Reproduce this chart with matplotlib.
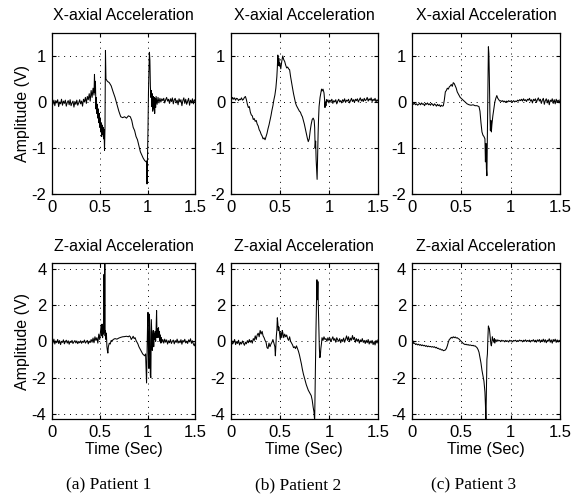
import matplotlib
matplotlib.use("Agg")
import matplotlib.pyplot as plt

# acceleration traces: (time in s, amplitude in V)
x_axial_p1 = [
    (0.00, 0.02), (0.01, -0.05), (0.02, 0.04), (0.03, -0.08), (0.04, 0.03), (0.05, -0.02),
    (0.06, 0.05), (0.07, -0.10), (0.08, 0.00), (0.09, -0.04), (0.10, 0.06), (0.11, -0.07),
    (0.12, 0.02), (0.13, -0.03), (0.14, 0.04), (0.15, -0.09), (0.16, -0.01), (0.17, 0.03),
    (0.18, -0.06), (0.19, 0.05), (0.20, -0.08), (0.21, -0.02), (0.22, 0.02), (0.23, -0.11),
    (0.24, 0.01), (0.25, -0.05), (0.26, 0.04), (0.27, -0.07), (0.28, -0.02), (0.29, 0.05),
    (0.30, -0.04), (0.31, 0.02), (0.32, -0.09), (0.33, 0.06), (0.34, 0.00), (0.35, 0.10),
    (0.36, -0.03), (0.37, 0.12), (0.38, 0.05), (0.39, 0.18), (0.40, 0.02), (0.41, 0.25),
    (0.42, 0.10), (0.43, 0.30), (0.44, 0.15), (0.445, 0.60), (0.45, 0.20), (0.455, 0.45),
    (0.46, -0.15), (0.465, 0.10), (0.47, -0.25), (0.475, -0.05), (0.48, -0.35), (0.485, -0.15),
    (0.49, -0.45), (0.495, -0.25), (0.50, -0.55), (0.505, -0.35), (0.51, -0.65), (0.515, -0.45),
    (0.52, -0.75), (0.525, -0.50), (0.53, -0.70), (0.535, -0.55), (0.54, -0.80), (0.545, -0.60),
    (0.55, -1.05), (0.555, -0.55), (0.56, 1.12), (0.565, 0.50), (0.58, 0.45), (0.60, 0.42),
    (0.62, 0.35), (0.64, 0.22), (0.66, 0.10), (0.68, -0.05), (0.70, -0.20), (0.72, -0.32),
    (0.74, -0.34), (0.76, -0.32), (0.78, -0.35), (0.80, -0.30), (0.82, -0.32), (0.835, -0.40),
    (0.85, -0.55), (0.865, -0.62), (0.88, -0.75), (0.895, -0.82), (0.91, -0.95), (0.925, -1.08),
    (0.94, -1.15), (0.955, -1.22), (0.97, -1.27), (0.985, -1.30), (0.99, -1.28), (0.995, -1.78),
    (1.00, -1.20), (1.005, -0.60), (1.01, 0.20), (1.015, 0.70), (1.02, 1.08), (1.025, 0.90),
    (1.03, 0.35), (1.035, 0.10), (1.04, 0.25), (1.045, -0.10), (1.05, 0.18), (1.055, -0.20),
    (1.06, 0.12), (1.065, -0.15), (1.07, 0.10), (1.075, -0.25), (1.08, 0.08), (1.085, -0.12),
    (1.09, 0.12), (1.10, -0.05), (1.11, 0.10), (1.12, -0.02), (1.13, 0.08), (1.14, 0.00),
    (1.15, 0.07), (1.16, 0.03), (1.17, 0.08), (1.18, -0.02), (1.19, 0.05), (1.20, 0.10),
    (1.21, 0.02), (1.22, 0.06), (1.23, -0.03), (1.24, 0.07), (1.25, 0.01), (1.26, 0.09),
    (1.27, -0.04), (1.28, 0.05), (1.29, 0.08), (1.30, -0.02), (1.31, 0.04), (1.32, -0.06),
    (1.33, 0.07), (1.34, 0.00), (1.35, 0.05), (1.36, -0.08), (1.37, 0.03), (1.38, 0.09),
    (1.39, -0.03), (1.40, 0.06), (1.41, -0.05), (1.42, 0.02), (1.43, 0.08), (1.44, -0.07),
    (1.45, 0.04), (1.46, -0.02), (1.47, 0.07), (1.48, -0.04), (1.49, 0.05), (1.50, 0.01),
]

x_axial_p2 = [
    (0.00, 0.08), (0.01, 0.05), (0.02, 0.10), (0.03, 0.06), (0.04, 0.09), (0.05, 0.04),
    (0.06, 0.08), (0.07, 0.07), (0.08, 0.03), (0.09, 0.06), (0.10, 0.05), (0.11, 0.09),
    (0.12, 0.04), (0.13, 0.06), (0.14, 0.10), (0.15, 0.12), (0.16, 0.05), (0.17, -0.05),
    (0.18, -0.12), (0.19, -0.10), (0.20, -0.22), (0.21, -0.28), (0.22, -0.30), (0.23, -0.38),
    (0.24, -0.36), (0.25, -0.42), (0.26, -0.40), (0.27, -0.48), (0.28, -0.52), (0.29, -0.60),
    (0.30, -0.64), (0.31, -0.70), (0.32, -0.74), (0.33, -0.80), (0.34, -0.78), (0.35, -0.82),
    (0.36, -0.75), (0.37, -0.68), (0.38, -0.58), (0.39, -0.50), (0.40, -0.40), (0.41, -0.30),
    (0.42, -0.18), (0.43, -0.08), (0.44, 0.05), (0.45, 0.15), (0.46, 0.30), (0.47, 0.55),
    (0.475, 0.75), (0.48, 1.02), (0.485, 0.80), (0.49, 0.95), (0.495, 0.78), (0.50, 0.85),
    (0.51, 0.72), (0.52, 0.88), (0.53, 1.00), (0.54, 0.92), (0.55, 0.88), (0.56, 0.80),
    (0.57, 0.74), (0.58, 0.76), (0.59, 0.72), (0.60, 0.70), (0.61, 0.55), (0.62, 0.42),
    (0.63, 0.30), (0.64, 0.18), (0.65, 0.08), (0.66, -0.02), (0.67, -0.08), (0.68, -0.12),
    (0.69, -0.16), (0.70, -0.20), (0.71, -0.22), (0.72, -0.28), (0.73, -0.32), (0.74, -0.40),
    (0.75, -0.48), (0.76, -0.58), (0.77, -0.68), (0.78, -0.78), (0.79, -0.86), (0.80, -0.80),
    (0.81, -0.62), (0.82, -0.48), (0.83, -0.38), (0.84, -0.35), (0.85, -0.40), (0.855, -0.55),
    (0.86, -1.00), (0.865, -0.85), (0.87, -1.25), (0.875, -1.45), (0.88, -1.68), (0.885, -1.20),
    (0.89, -0.70), (0.895, -0.35), (0.90, -0.10), (0.91, 0.10), (0.92, 0.22), (0.925, 0.28),
    (0.93, 0.24), (0.94, 0.28), (0.95, 0.20), (0.955, 0.08), (0.96, -0.12), (0.965, 0.00),
    (0.97, -0.08), (0.975, 0.05), (0.98, 0.00), (0.99, 0.05), (1.00, -0.02), (1.01, 0.04),
    (1.02, 0.01), (1.03, 0.06), (1.04, -0.03), (1.05, 0.03), (1.06, 0.00), (1.07, 0.05),
    (1.08, -0.04), (1.09, 0.02), (1.10, 0.06), (1.11, 0.00), (1.12, 0.03), (1.13, -0.02),
    (1.14, 0.05), (1.15, 0.01), (1.16, 0.07), (1.17, -0.01), (1.18, 0.04), (1.19, 0.02),
    (1.20, 0.06), (1.21, -0.02), (1.22, 0.03), (1.23, 0.08), (1.24, 0.01), (1.25, 0.05),
    (1.26, -0.01), (1.27, 0.06), (1.28, 0.03), (1.29, 0.07), (1.30, 0.00), (1.31, 0.05),
    (1.32, 0.09), (1.33, 0.02), (1.34, 0.06), (1.35, 0.01), (1.36, 0.08), (1.37, 0.03),
    (1.38, 0.05), (1.39, 0.10), (1.40, 0.02), (1.41, 0.07), (1.42, 0.04), (1.43, 0.09),
    (1.44, 0.01), (1.45, 0.06), (1.46, 0.03), (1.47, 0.08), (1.48, 0.00), (1.49, 0.05),
    (1.50, 0.02),
]

x_axial_p3 = [
    (0.00, 0.02), (0.005, -0.12), (0.01, -0.02), (0.02, -0.05), (0.03, -0.03), (0.04, -0.06),
    (0.05, -0.04), (0.06, -0.07), (0.07, -0.05), (0.08, -0.03), (0.09, -0.06), (0.10, -0.02),
    (0.11, -0.05), (0.12, -0.04), (0.13, -0.08), (0.14, -0.03), (0.15, -0.05), (0.16, -0.02),
    (0.17, -0.06), (0.18, -0.04), (0.19, -0.07), (0.20, -0.03), (0.21, -0.05), (0.22, -0.08),
    (0.23, -0.04), (0.24, -0.06), (0.25, -0.09), (0.26, -0.05), (0.27, -0.08), (0.28, -0.06),
    (0.29, -0.10), (0.30, -0.07), (0.31, -0.09), (0.32, -0.08), (0.33, 0.05), (0.34, 0.22),
    (0.35, 0.25), (0.36, 0.30), (0.37, 0.28), (0.38, 0.33), (0.39, 0.35), (0.40, 0.38),
    (0.41, 0.34), (0.42, 0.42), (0.43, 0.40), (0.44, 0.35), (0.45, 0.30), (0.46, 0.22),
    (0.47, 0.18), (0.48, 0.14), (0.49, 0.10), (0.50, 0.08), (0.52, 0.04), (0.54, 0.00),
    (0.56, -0.04), (0.58, -0.06), (0.60, -0.07), (0.62, -0.06), (0.64, -0.08), (0.66, -0.08),
    (0.68, -0.10), (0.69, -0.20), (0.70, -0.45), (0.71, -0.65), (0.72, -0.72), (0.73, -0.75),
    (0.74, -0.80), (0.745, -1.30), (0.75, -0.90), (0.755, -1.45), (0.76, -1.60), (0.765, -0.70),
    (0.77, 0.40), (0.775, 1.20), (0.78, 1.05), (0.785, 0.50), (0.79, -0.20), (0.795, -0.62),
    (0.80, -0.40), (0.805, -0.65), (0.81, -0.50), (0.82, -0.30), (0.83, -0.15), (0.84, 0.00),
    (0.85, 0.08), (0.86, 0.14), (0.87, 0.08), (0.88, 0.05), (0.89, 0.02), (0.90, 0.03),
    (0.91, 0.01), (0.92, 0.03), (0.93, 0.00), (0.94, 0.02), (0.95, -0.01), (0.96, 0.02),
    (0.97, 0.00), (0.98, 0.03), (0.99, 0.01), (1.00, 0.02), (1.01, -0.01), (1.02, 0.01),
    (1.03, 0.03), (1.04, 0.00), (1.05, 0.02), (1.06, 0.01), (1.07, 0.04), (1.08, 0.02),
    (1.09, 0.05), (1.10, 0.03), (1.11, 0.06), (1.12, 0.02), (1.13, 0.07), (1.14, 0.03),
    (1.15, 0.05), (1.16, 0.01), (1.17, 0.06), (1.18, 0.04), (1.19, 0.08), (1.20, 0.02),
    (1.21, 0.05), (1.22, -0.02), (1.23, 0.06), (1.24, 0.03), (1.25, 0.07), (1.26, -0.01),
    (1.27, 0.05), (1.28, 0.09), (1.29, 0.02), (1.30, 0.06), (1.31, -0.03), (1.32, 0.04),
    (1.33, 0.08), (1.34, -0.05), (1.35, 0.03), (1.36, 0.07), (1.37, -0.02), (1.38, 0.05),
    (1.39, -0.06), (1.40, 0.04), (1.41, 0.01), (1.42, 0.07), (1.43, -0.03), (1.44, 0.05),
    (1.45, -0.04), (1.46, 0.06), (1.47, 0.00), (1.48, 0.04), (1.49, -0.02), (1.50, 0.05),
]

z_axial_p1 = [
    (0.00, 0.05), (0.01, -0.10), (0.02, 0.12), (0.03, -0.15), (0.04, 0.02), (0.05, -0.08),
    (0.06, 0.10), (0.07, -0.12), (0.08, 0.04), (0.09, -0.18), (0.10, 0.00), (0.11, -0.06),
    (0.12, 0.08), (0.13, -0.14), (0.14, -0.02), (0.15, 0.06), (0.16, -0.10), (0.17, 0.03),
    (0.18, -0.16), (0.19, 0.00), (0.20, -0.07), (0.21, 0.05), (0.22, -0.12), (0.23, -0.03),
    (0.24, 0.04), (0.25, -0.09), (0.26, 0.02), (0.27, -0.13), (0.28, -0.01), (0.29, -0.08),
    (0.30, 0.03), (0.31, -0.11), (0.32, 0.00), (0.33, -0.06), (0.34, 0.07), (0.35, -0.10),
    (0.36, -0.02), (0.37, 0.05), (0.38, -0.14), (0.39, 0.01), (0.40, -0.07), (0.41, 0.10),
    (0.42, -0.05), (0.43, 0.18), (0.44, -0.08), (0.45, 0.25), (0.46, 0.05), (0.47, 0.20),
    (0.48, -0.10), (0.49, 0.40), (0.50, 0.10), (0.51, 0.60), (0.515, 0.90), (0.52, 0.30),
    (0.525, 0.95), (0.53, 0.20), (0.535, 0.80), (0.54, 0.40), (0.545, 3.70), (0.55, 0.50),
    (0.553, 4.35), (0.556, 0.30), (0.56, 0.60), (0.565, 0.10), (0.57, 0.45), (0.575, -0.30),
    (0.58, -0.50), (0.585, -0.65), (0.59, -0.30), (0.60, -0.10), (0.61, -0.15), (0.62, 0.05),
    (0.63, 0.00), (0.64, 0.10), (0.66, 0.15), (0.68, 0.12), (0.70, 0.18), (0.72, 0.22),
    (0.74, 0.25), (0.76, 0.26), (0.78, 0.28), (0.80, 0.25), (0.81, 0.30), (0.82, 0.25),
    (0.83, 0.10), (0.84, 0.18), (0.85, 0.28), (0.86, 0.15), (0.87, 0.20), (0.88, 0.05),
    (0.89, -0.05), (0.90, -0.15), (0.91, -0.30), (0.92, -0.40), (0.93, -0.50), (0.94, -0.60),
    (0.95, -0.70), (0.96, -0.75), (0.97, -0.80), (0.98, -0.70), (0.985, -1.50), (0.99, -2.30),
    (0.995, -0.60), (1.00, 0.80), (1.005, 1.60), (1.01, -0.80), (1.015, -1.50), (1.02, 1.50),
    (1.025, 0.50), (1.03, -1.90), (1.035, -2.00), (1.04, 1.20), (1.045, 0.40), (1.05, -0.50),
    (1.055, 0.20), (1.06, 0.60), (1.065, -0.30), (1.07, 0.40), (1.075, 0.10), (1.08, 0.55),
    (1.085, 0.00), (1.09, 0.70), (1.095, 1.70), (1.10, 0.20), (1.105, 0.70), (1.11, 0.30),
    (1.115, 0.75), (1.12, 0.20), (1.125, 0.55), (1.13, 0.00), (1.135, 0.35), (1.14, -0.10),
    (1.145, 0.20), (1.15, -0.05), (1.16, 0.10), (1.17, -0.10), (1.18, 0.12), (1.19, -0.05),
    (1.20, 0.08), (1.21, -0.15), (1.22, 0.03), (1.23, -0.08), (1.24, 0.10), (1.25, -0.12),
    (1.26, 0.00), (1.27, 0.07), (1.28, -0.14), (1.29, 0.04), (1.30, -0.06), (1.31, 0.12),
    (1.32, -0.10), (1.33, 0.02), (1.34, -0.08), (1.35, 0.09), (1.36, -0.16), (1.37, 0.05),
    (1.38, -0.04), (1.39, 0.11), (1.40, -0.09), (1.41, 0.01), (1.42, -0.12), (1.43, 0.08),
    (1.44, -0.03), (1.45, 0.14), (1.46, -0.11), (1.47, 0.03), (1.48, -0.15), (1.49, -0.25),
    (1.50, -0.08),
]

z_axial_p2 = [
    (0.00, -0.20), (0.01, 0.05), (0.02, -0.15), (0.03, -0.05), (0.04, 0.10), (0.05, -0.18),
    (0.06, -0.02), (0.07, -0.12), (0.08, 0.06), (0.09, -0.20), (0.10, -0.05), (0.11, -0.15),
    (0.12, 0.02), (0.13, -0.10), (0.14, -0.22), (0.15, -0.05), (0.16, -0.14), (0.17, 0.04),
    (0.18, -0.08), (0.19, 0.10), (0.20, -0.05), (0.21, 0.05), (0.22, -0.10), (0.23, 0.15),
    (0.24, 0.05), (0.25, 0.30), (0.26, 0.10), (0.27, 0.35), (0.28, 0.45), (0.29, 0.25),
    (0.30, 0.60), (0.31, 0.40), (0.32, 0.55), (0.33, 0.30), (0.34, 0.20), (0.35, 0.05),
    (0.36, -0.05), (0.37, -0.35), (0.38, -0.40), (0.39, -0.10), (0.40, -0.30), (0.41, -0.15),
    (0.42, -0.05), (0.43, 0.10), (0.44, -0.10), (0.45, -0.30), (0.455, -0.80), (0.46, -0.20),
    (0.465, 0.30), (0.47, 0.60), (0.475, 1.30), (0.48, 1.00), (0.485, 0.60), (0.49, 0.80),
    (0.50, 0.30), (0.505, 0.10), (0.51, 0.50), (0.52, 0.20), (0.525, 0.60), (0.53, 0.50),
    (0.54, 0.20), (0.55, 0.40), (0.56, 0.25), (0.57, 0.35), (0.58, 0.15), (0.59, 0.05),
    (0.60, 0.25), (0.61, 0.00), (0.62, -0.10), (0.63, -0.20), (0.64, -0.35), (0.65, -0.30),
    (0.66, -0.40), (0.67, -0.25), (0.68, -0.40), (0.69, -0.55), (0.70, -0.75), (0.71, -1.00),
    (0.72, -1.25), (0.73, -1.55), (0.74, -1.80), (0.75, -2.00), (0.76, -2.20), (0.77, -2.40),
    (0.78, -2.55), (0.79, -2.70), (0.80, -2.80), (0.81, -2.90), (0.82, -3.00), (0.83, -3.25),
    (0.84, -3.65), (0.848, -3.90), (0.855, -4.40), (0.862, -1.60), (0.868, 0.50), (0.873, 2.00),
    (0.878, 3.40), (0.883, 2.30), (0.888, 3.30), (0.893, 1.80), (0.898, 0.80), (0.903, -0.40),
    (0.908, -0.90), (0.913, -0.80), (0.918, -0.40), (0.925, -0.10), (0.93, 0.20), (0.94, 0.05),
    (0.95, 0.25), (0.96, 0.10), (0.97, 0.15), (0.98, 0.00), (0.99, 0.20), (1.00, 0.05),
    (1.01, 0.18), (1.02, -0.02), (1.03, 0.12), (1.04, 0.25), (1.05, 0.05), (1.06, 0.15),
    (1.07, -0.05), (1.08, 0.20), (1.09, 0.08), (1.10, 0.00), (1.11, 0.15), (1.12, -0.08),
    (1.13, 0.10), (1.14, 0.02), (1.15, 0.18), (1.16, -0.05), (1.17, 0.12), (1.18, 0.30),
    (1.19, 0.05), (1.20, 0.25), (1.21, -0.02), (1.22, 0.18), (1.23, 0.06), (1.24, 0.32),
    (1.25, 0.10), (1.26, 0.22), (1.27, -0.05), (1.28, 0.15), (1.29, 0.00), (1.30, 0.12),
    (1.31, -0.10), (1.32, 0.08), (1.33, -0.02), (1.34, 0.15), (1.35, -0.06), (1.36, 0.05),
    (1.37, -0.12), (1.38, 0.06), (1.39, -0.08), (1.40, 0.10), (1.41, -0.15), (1.42, 0.02),
    (1.43, -0.10), (1.44, 0.05), (1.45, -0.18), (1.46, -0.02), (1.47, -0.20), (1.48, 0.05),
    (1.49, -0.10), (1.50, 0.08),
]

z_axial_p3 = [
    (0.00, 0.12), (0.005, -0.05), (0.01, 0.05), (0.02, -0.12), (0.03, -0.10), (0.04, -0.18),
    (0.05, -0.14), (0.06, -0.20), (0.07, -0.16), (0.08, -0.22), (0.09, -0.18), (0.10, -0.24),
    (0.11, -0.20), (0.12, -0.25), (0.13, -0.22), (0.14, -0.28), (0.15, -0.24), (0.16, -0.30),
    (0.17, -0.26), (0.18, -0.30), (0.19, -0.28), (0.20, -0.32), (0.21, -0.29), (0.22, -0.33),
    (0.23, -0.30), (0.24, -0.36), (0.25, -0.33), (0.26, -0.40), (0.27, -0.38), (0.28, -0.44),
    (0.29, -0.42), (0.30, -0.48), (0.31, -0.46), (0.32, -0.52), (0.33, -0.50), (0.34, -0.48),
    (0.35, -0.40), (0.36, -0.25), (0.37, -0.05), (0.38, 0.10), (0.39, 0.15), (0.40, 0.22),
    (0.41, 0.18), (0.42, 0.25), (0.43, 0.20), (0.44, 0.24), (0.45, 0.18), (0.46, 0.20),
    (0.47, 0.15), (0.48, 0.12), (0.49, 0.05), (0.50, 0.00), (0.51, -0.05), (0.52, -0.12),
    (0.53, -0.15), (0.54, -0.18), (0.55, -0.16), (0.56, -0.20), (0.57, -0.18), (0.58, -0.22),
    (0.59, -0.20), (0.60, -0.22), (0.61, -0.24), (0.62, -0.22), (0.63, -0.26), (0.64, -0.25),
    (0.65, -0.30), (0.66, -0.35), (0.67, -0.45), (0.68, -0.60), (0.69, -0.90), (0.70, -1.20),
    (0.71, -1.60), (0.72, -1.90), (0.73, -2.20), (0.74, -2.80), (0.745, -3.50), (0.75, -4.40),
    (0.755, -2.50), (0.76, -1.00), (0.765, -0.70), (0.77, 0.20), (0.775, 0.85), (0.78, 0.75),
    (0.785, 0.70), (0.79, 0.40), (0.795, 0.10), (0.80, -0.15), (0.805, -0.25), (0.81, -0.05),
    (0.815, 0.25), (0.82, 0.10), (0.83, -0.05), (0.835, 0.15), (0.84, -0.10), (0.85, 0.10),
    (0.86, -0.02), (0.87, 0.08), (0.88, 0.02), (0.89, 0.05), (0.90, -0.02), (0.91, 0.06),
    (0.92, 0.01), (0.93, 0.04), (0.94, -0.03), (0.95, 0.05), (0.96, 0.00), (0.97, 0.03),
    (0.98, -0.04), (0.99, 0.06), (1.00, 0.01), (1.01, 0.04), (1.02, -0.03), (1.03, 0.05),
    (1.04, 0.02), (1.05, 0.06), (1.06, -0.02), (1.07, 0.04), (1.08, 0.00), (1.09, 0.07),
    (1.10, 0.02), (1.11, 0.05), (1.12, -0.03), (1.13, 0.06), (1.14, 0.01), (1.15, 0.08),
    (1.16, -0.02), (1.17, 0.05), (1.18, 0.00), (1.19, 0.07), (1.20, -0.04), (1.21, 0.05),
    (1.22, 0.01), (1.23, 0.09), (1.24, -0.03), (1.25, 0.06), (1.26, -0.05), (1.27, 0.08),
    (1.28, 0.00), (1.29, 0.10), (1.30, -0.06), (1.31, 0.07), (1.32, -0.02), (1.33, 0.12),
    (1.34, -0.04), (1.35, 0.09), (1.36, -0.08), (1.37, 0.06), (1.38, 0.01), (1.39, 0.14),
    (1.40, -0.05), (1.41, 0.08), (1.42, -0.10), (1.43, 0.10), (1.44, 0.00), (1.45, 0.12),
    (1.46, -0.06), (1.47, 0.08), (1.48, -0.04), (1.49, 0.06), (1.50, 0.00),
]

top_traces = [x_axial_p1, x_axial_p2, x_axial_p3]
bottom_traces = [z_axial_p1, z_axial_p2, z_axial_p3]
top_title = "X-axial Acceleration"
bottom_title = "Z-axial Acceleration"
captions = ["(a) Patient 1", "(b) Patient 2", "(c) Patient 3"]
time_ticks = [0, 0.5, 1, 1.5]
time_tick_labels = ["0", "0.5", "1", "1.5"]
x_amp_ticks = [-2, -1, 0, 1]
z_amp_ticks = [-4, -2, 0, 2, 4]

SANS = "Liberation Sans"
SERIF = "Liberation Serif"

col_left = [0.091, 0.404, 0.721]
col_width = [0.251, 0.258, 0.260]
row_bottom = [0.611, 0.160]
row_height = [0.323, 0.312]
caption_x = [0.190, 0.522, 0.830]


def style_axes(ax, yticks, ylim):
    ax.set_xlim(0, 1.5)
    ax.set_ylim(*ylim)
    ax.set_xticks(time_ticks)
    ax.set_xticklabels(time_tick_labels)
    ax.set_yticks(yticks)
    ax.set_yticklabels([str(t) for t in yticks])
    ax.tick_params(direction="in", length=3, width=0.8, top=True, right=True,
                   labelsize=12, pad=4, colors="black")
    for lab in ax.get_xticklabels() + ax.get_yticklabels():
        lab.set_fontfamily(SANS)
    ax.grid(True, color="black", linestyle=(0, (1, 5)), linewidth=0.7)
    for sp in ax.spines.values():
        sp.set_linewidth(0.9)
        sp.set_color("black")


def draw_trace(ax, trace):
    t = [p[0] for p in trace]
    v = [p[1] for p in trace]
    ax.plot(t, v, color="black", linewidth=0.75)


fig = plt.figure(figsize=(5.71, 4.99), dpi=100)

for col in range(3):
    ax = fig.add_axes([col_left[col], row_bottom[0], col_width[col], row_height[0]])
    draw_trace(ax, top_traces[col])
    style_axes(ax, x_amp_ticks, (-2, 1.5))
    ax.set_title(top_title, fontsize=11.5, fontfamily=SANS, pad=9)
    if col == 0:
        ax.set_ylabel("Amplitude (V)", fontsize=11.5, fontfamily=SANS, labelpad=1)

    ax = fig.add_axes([col_left[col], row_bottom[1], col_width[col], row_height[1]])
    draw_trace(ax, bottom_traces[col])
    style_axes(ax, z_amp_ticks, (-4.3, 4.3))
    ax.set_title(bottom_title, fontsize=11.5, fontfamily=SANS, pad=9)
    ax.set_xlabel("Time (Sec)", fontsize=11.5, fontfamily=SANS, labelpad=2)
    if col == 0:
        ax.set_ylabel("Amplitude (V)", fontsize=11.5, fontfamily=SANS, labelpad=1)

    fig.text(caption_x[col], 0.028, captions[col], ha="center", va="center",
             fontsize=12.5, fontfamily=SERIF)

fig.savefig("out.png", dpi=100)
